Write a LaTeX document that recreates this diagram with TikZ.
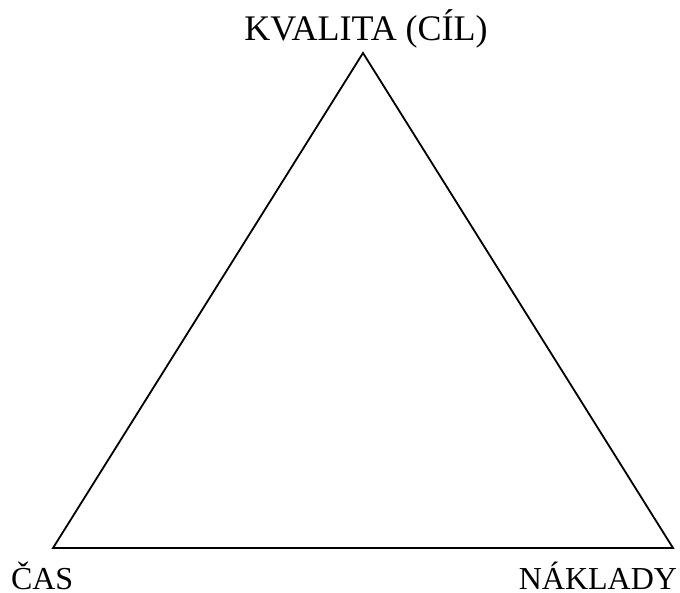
\documentclass[tikz,border=0pt]{standalone}
\usepackage{fontspec}
\setmainfont{Liberation Serif}
\usetikzlibrary{positioning}

\begin{document}
\begin{tikzpicture}[
  x=0.5pt, y=-0.5pt,
  edge/.style={draw=black, line width=0.9pt, line join=miter},
  vlabel/.style={inner sep=0pt, outer sep=0pt, font=\fontsize{16}{19}\selectfont},
  toplabel/.style={vlabel, font=\fontsize{18}{21}\selectfont}
]
\useasboundingbox (0,0) rectangle (680,593);

% vertices
\coordinate (kvalita) at (363,53);
\coordinate (cas) at (53,548);
\coordinate (naklady) at (673,548);

\draw[edge] (kvalita) -- (cas) -- (naklady) -- cycle;

% labels
\node[toplabel, anchor=base] (lblK) at (366,41) {KVALITA (CÍL)};
\node[vlabel, anchor=base west] (lblC) at (11,589) {ČAS};
\node[vlabel, anchor=base east] (lblN) at (677,589) {NÁKLADY};
\end{tikzpicture}
\end{document}
